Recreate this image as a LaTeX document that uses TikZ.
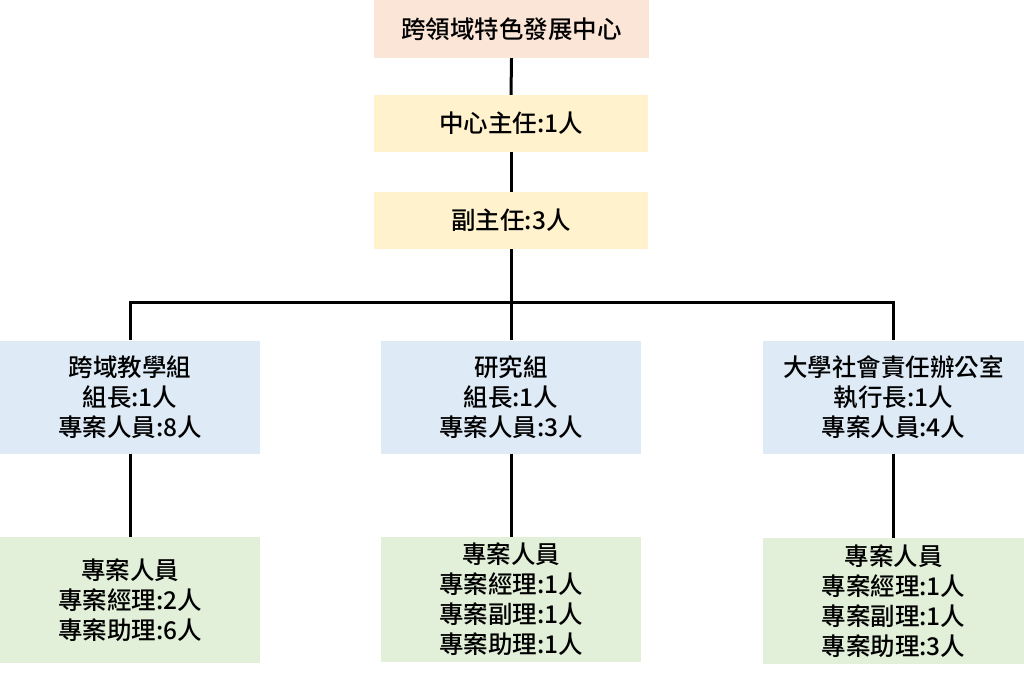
\documentclass[tikz,border=0pt]{standalone}
\usepackage{fontspec}
\setmainfont{Noto Sans CJK TC}[UprightFont=* Medium]
\definecolor{cpink}{HTML}{FBE5D6}
\definecolor{cyel}{HTML}{FFF2CC}
\definecolor{cblue}{HTML}{DEEBF7}
\definecolor{cgreen}{HTML}{E2F0D9}
\tikzset{
  box/.style={rectangle, inner sep=0pt, align=center, font=\fontsize{24.5}{30}\selectfont},
  conn/.style={line width=3pt, black},
}
\begin{document}
\begin{tikzpicture}[x=1pt,y=-1pt]
\useasboundingbox (0,0) rectangle (1024,677);
\node[box, fill=cpink, minimum width=275pt, minimum height=58pt] (top) at (511.5,29) {跨領域特色發展中心};
\node[box, fill=cyel, minimum width=274pt, minimum height=57pt] (dir) at (511,123.5) {中心主任:1人};
\node[box, fill=cyel, minimum width=274pt, minimum height=57pt] (dep) at (511,220.5) {副主任:3人};
\node[box, fill=cblue, minimum width=260pt, minimum height=113pt] (g1) at (130,397) {跨域教學組\\組長:1人\\專案人員:8人};
\node[box, fill=cblue, minimum width=260pt, minimum height=113pt] (g2) at (511,397) {研究組\\組長:1人\\專案人員:3人};
\node[box, fill=cblue, minimum width=261pt, minimum height=113pt] (g3) at (893.5,397) {大學社會責任辦公室\\執行長:1人\\專案人員:4人};
\node[box, fill=cgreen, minimum width=260pt, minimum height=126pt] (s1) at (130,600) {專案人員\\專案經理:2人\\專案助理:6人};
\node[box, fill=cgreen, minimum width=260pt, minimum height=125pt] (s2) at (511,599.5) {專案人員\\專案經理:1人\\專案副理:1人\\專案助理:1人};
\node[box, fill=cgreen, minimum width=261pt, minimum height=126pt] (s3) at (893.5,601) {專案人員\\專案經理:1人\\專案副理:1人\\專案助理:3人};
\coordinate (bus) at (511,302);
\draw[conn] (top.south) -- (dir.north);
\draw[conn] (dir.south) -- (dep.north);
\draw[conn] (dep.south) -- (g2.north);
\draw[conn] (g1.north) -- (g1.north |- bus) -- (g3.north |- bus) -- (g3.north);
\draw[conn] (g1.south) -- (s1.north);
\draw[conn] (g2.south) -- (s2.north);
\draw[conn] (g3.south) -- (s3.north);
\end{tikzpicture}
\end{document}
